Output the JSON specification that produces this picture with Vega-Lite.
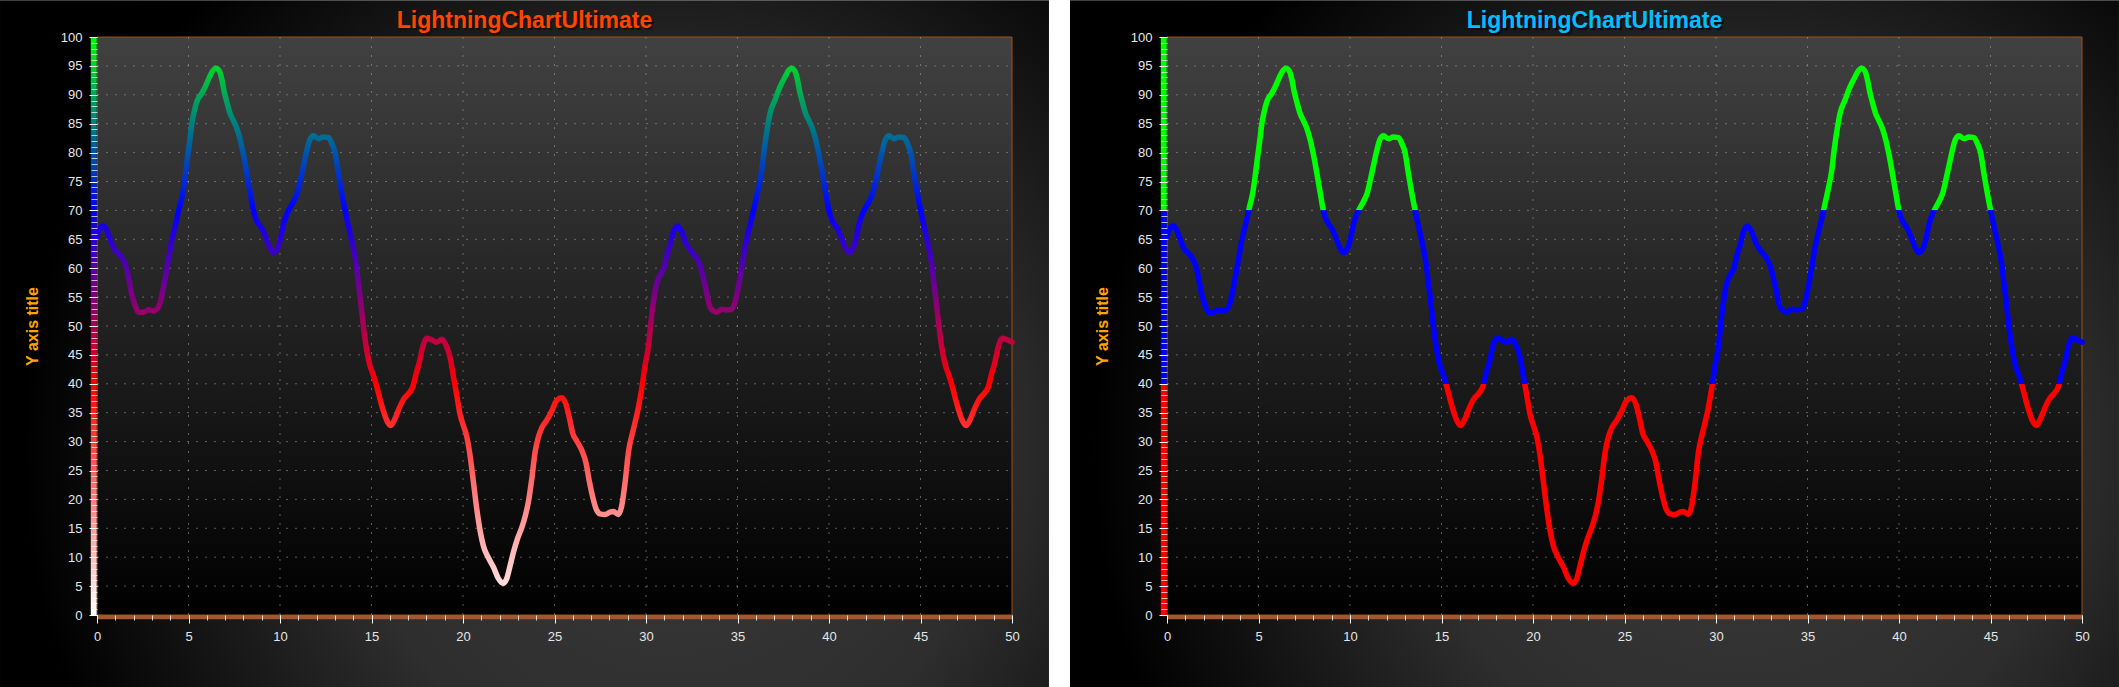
{
  "$schema": "https://vega.github.io/schema/vega-lite/v6.json",
  "background": "white",
  "padding": 0,
  "spacing": 21,
  "config": {
    "view": {"stroke": null},
    "font": "Liberation Sans"
  },
  "datasets": {
    "curve": [{"x":0,"y":65.5},{"x":0.15,"y":66.8},{"x":0.35,"y":67.3},{"x":0.53,"y":66.6},{"x":0.72,"y":65.0},{"x":0.94,"y":63.3},{"x":1.17,"y":62.6},{"x":1.44,"y":61.4},{"x":1.63,"y":59.8},{"x":1.77,"y":57.5},{"x":1.9,"y":55.5},{"x":2.08,"y":53.6},{"x":2.26,"y":52.4},{"x":2.54,"y":52.4},{"x":2.81,"y":52.8},{"x":3.09,"y":52.6},{"x":3.36,"y":53.3},{"x":3.54,"y":55.2},{"x":3.72,"y":58.2},{"x":3.9,"y":61.4},{"x":4.08,"y":64.7},{"x":4.32,"y":67.9},{"x":4.5,"y":70.5},{"x":4.69,"y":73.1},{"x":4.81,"y":75.7},{"x":4.94,"y":79.0},{"x":5.05,"y":81.6},{"x":5.18,"y":84.9},{"x":5.31,"y":87.1},{"x":5.49,"y":89.1},{"x":5.72,"y":90.2},{"x":5.96,"y":91.7},{"x":6.18,"y":93.3},{"x":6.36,"y":94.3},{"x":6.5,"y":94.6},{"x":6.69,"y":94.1},{"x":6.82,"y":92.7},{"x":6.94,"y":90.7},{"x":7.09,"y":88.8},{"x":7.27,"y":86.8},{"x":7.46,"y":85.5},{"x":7.64,"y":84.2},{"x":7.82,"y":82.3},{"x":8.0,"y":79.7},{"x":8.19,"y":76.4},{"x":8.37,"y":73.1},{"x":8.55,"y":69.9},{"x":8.73,"y":68.2},{"x":9.0,"y":66.9},{"x":9.19,"y":65.6},{"x":9.42,"y":63.7},{"x":9.64,"y":62.7},{"x":9.86,"y":63.4},{"x":10.04,"y":65.3},{"x":10.22,"y":67.9},{"x":10.46,"y":69.9},{"x":10.73,"y":71.5},{"x":10.95,"y":73.1},{"x":11.1,"y":75.1},{"x":11.28,"y":77.7},{"x":11.46,"y":80.3},{"x":11.64,"y":82.3},{"x":11.83,"y":82.9},{"x":12.1,"y":82.4},{"x":12.37,"y":82.7},{"x":12.65,"y":82.6},{"x":12.83,"y":81.6},{"x":13.01,"y":80.0},{"x":13.19,"y":76.4},{"x":13.37,"y":73.1},{"x":13.61,"y":69.2},{"x":13.83,"y":66.0},{"x":14.01,"y":63.4},{"x":14.16,"y":60.8},{"x":14.28,"y":57.5},{"x":14.41,"y":54.2},{"x":14.52,"y":51.0},{"x":14.65,"y":47.7},{"x":14.78,"y":45.1},{"x":14.92,"y":43.1},{"x":15.1,"y":41.5},{"x":15.29,"y":39.5},{"x":15.47,"y":37.3},{"x":15.65,"y":35.3},{"x":15.83,"y":33.7},{"x":16.05,"y":32.8},{"x":16.29,"y":34.0},{"x":16.53,"y":35.9},{"x":16.75,"y":37.3},{"x":17.02,"y":38.3},{"x":17.26,"y":39.5},{"x":17.44,"y":41.8},{"x":17.62,"y":43.8},{"x":17.8,"y":46.4},{"x":18.02,"y":47.9},{"x":18.29,"y":47.6},{"x":18.56,"y":47.2},{"x":18.84,"y":47.7},{"x":19.11,"y":46.4},{"x":19.3,"y":44.5},{"x":19.48,"y":41.2},{"x":19.66,"y":38.0},{"x":19.84,"y":34.7},{"x":20.02,"y":32.8},{"x":20.21,"y":30.8},{"x":20.39,"y":27.5},{"x":20.57,"y":23.0},{"x":20.75,"y":18.4},{"x":20.94,"y":14.5},{"x":21.12,"y":11.9},{"x":21.39,"y":9.9},{"x":21.66,"y":8.3},{"x":21.94,"y":6.3},{"x":22.18,"y":5.5},{"x":22.39,"y":6.3},{"x":22.58,"y":8.6},{"x":22.76,"y":10.9},{"x":22.98,"y":13.2},{"x":23.21,"y":15.1},{"x":23.4,"y":17.1},{"x":23.58,"y":19.7},{"x":23.76,"y":23.6},{"x":23.94,"y":28.2},{"x":24.12,"y":30.8},{"x":24.31,"y":32.4},{"x":24.58,"y":33.7},{"x":24.85,"y":35.3},{"x":25.09,"y":37.0},{"x":25.4,"y":37.6},{"x":25.64,"y":36.3},{"x":25.82,"y":34.0},{"x":26.0,"y":31.4},{"x":26.22,"y":30.1},{"x":26.49,"y":28.5},{"x":26.73,"y":26.2},{"x":26.91,"y":23.0},{"x":27.09,"y":20.4},{"x":27.27,"y":18.4},{"x":27.49,"y":17.5},{"x":27.77,"y":17.4},{"x":28.04,"y":17.8},{"x":28.22,"y":17.9},{"x":28.49,"y":17.4},{"x":28.68,"y":19.0},{"x":28.86,"y":23.0},{"x":29.04,"y":28.2},{"x":29.31,"y":32.1},{"x":29.59,"y":36.0},{"x":29.77,"y":39.3},{"x":29.95,"y":43.2},{"x":30.13,"y":46.4},{"x":30.26,"y":50.3},{"x":30.41,"y":54.2},{"x":30.55,"y":56.9},{"x":30.77,"y":58.8},{"x":30.99,"y":60.1},{"x":31.13,"y":62.1},{"x":31.32,"y":64.0},{"x":31.5,"y":66.3},{"x":31.72,"y":67.3},{"x":31.95,"y":66.3},{"x":32.19,"y":64.3},{"x":32.45,"y":63.0},{"x":32.77,"y":61.7},{"x":32.96,"y":60.4},{"x":33.14,"y":58.2},{"x":33.29,"y":56.2},{"x":33.41,"y":54.2},{"x":33.6,"y":52.8},{"x":33.87,"y":52.4},{"x":34.14,"y":52.9},{"x":34.41,"y":52.8},{"x":34.69,"y":52.9},{"x":34.87,"y":54.2},{"x":35.05,"y":56.8},{"x":35.23,"y":60.1},{"x":35.41,"y":63.6},{"x":35.6,"y":66.3},{"x":35.78,"y":68.6},{"x":35.96,"y":71.2},{"x":36.14,"y":73.8},{"x":36.33,"y":77.0},{"x":36.45,"y":80.3},{"x":36.6,"y":83.6},{"x":36.78,"y":86.8},{"x":37.05,"y":89.1},{"x":37.33,"y":91.4},{"x":37.63,"y":93.3},{"x":37.81,"y":94.3},{"x":37.95,"y":94.6},{"x":38.14,"y":94.1},{"x":38.27,"y":92.7},{"x":38.39,"y":90.7},{"x":38.54,"y":88.8},{"x":38.72,"y":86.8},{"x":38.91,"y":85.5},{"x":39.09,"y":84.2},{"x":39.27,"y":82.3},{"x":39.45,"y":79.7},{"x":39.64,"y":76.4},{"x":39.82,"y":73.1},{"x":40.0,"y":69.9},{"x":40.18,"y":68.2},{"x":40.45,"y":66.9},{"x":40.64,"y":65.6},{"x":40.87,"y":63.7},{"x":41.09,"y":62.7},{"x":41.31,"y":63.4},{"x":41.49,"y":65.3},{"x":41.67,"y":67.9},{"x":41.91,"y":69.9},{"x":42.18,"y":71.5},{"x":42.4,"y":73.1},{"x":42.55,"y":75.1},{"x":42.73,"y":77.7},{"x":42.91,"y":80.3},{"x":43.09,"y":82.3},{"x":43.28,"y":82.9},{"x":43.55,"y":82.4},{"x":43.82,"y":82.7},{"x":44.1,"y":82.6},{"x":44.28,"y":81.6},{"x":44.46,"y":80.0},{"x":44.64,"y":76.4},{"x":44.82,"y":73.1},{"x":45.06,"y":69.2},{"x":45.28,"y":66.0},{"x":45.46,"y":63.4},{"x":45.61,"y":60.8},{"x":45.73,"y":57.5},{"x":45.86,"y":54.2},{"x":45.97,"y":51.0},{"x":46.1,"y":47.7},{"x":46.23,"y":45.1},{"x":46.37,"y":43.1},{"x":46.55,"y":41.5},{"x":46.74,"y":39.5},{"x":46.92,"y":37.3},{"x":47.1,"y":35.3},{"x":47.28,"y":33.7},{"x":47.5,"y":32.8},{"x":47.74,"y":34.0},{"x":47.98,"y":35.9},{"x":48.2,"y":37.3},{"x":48.47,"y":38.3},{"x":48.71,"y":39.5},{"x":48.89,"y":41.8},{"x":49.07,"y":43.8},{"x":49.25,"y":46.4},{"x":49.47,"y":47.9},{"x":49.74,"y":47.6},{"x":50,"y":47.2}],
    "gridx": [{"v":5},{"v":10},{"v":15},{"v":20},{"v":25},{"v":30},{"v":35},{"v":40},{"v":45}],
    "gridy": [{"v":5},{"v":10},{"v":15},{"v":20},{"v":25},{"v":30},{"v":35},{"v":40},{"v":45},{"v":50},{"v":55},{"v":60},{"v":65},{"v":70},{"v":75},{"v":80},{"v":85},{"v":90},{"v":95}],
    "heading": [{"label": "LightningChartUltimate", "cx": 23.36, "cy": 101.5}]
  },
  "hconcat": [
    {
      "width": 915,
      "height": 578,
      "resolve": {"axis": {"x": "independent", "y": "independent"}},
      "layer": [
        {
          "data": {"values": [{}]},
          "mark": {"type": "rect", "clip": false, "fill": {"gradient": "radial", "x1": 0.64, "y1": 0.6, "r1": 0, "x2": 0.64, "y2": 0.6, "r2": 0.62, "stops": [{"offset": 0, "color": "#3a3a3a"}, {"offset": 0.5, "color": "#2e2e2e"}, {"offset": 1, "color": "#000000"}]}},
          "encoding": {
            "x": {"datum": -5.3, "type": "quantitative", "scale": {"domain": [0, 50], "nice": false, "zero": false}, "axis": null},
            "x2": {"datum": 52.02},
            "y": {"datum": -12.5, "type": "quantitative", "scale": {"domain": [0, 100], "nice": false, "zero": false}, "axis": null},
            "y2": {"datum": 106.34}
          }
        },
        {
          "data": {"values": [{}]},
          "mark": {"type": "rect", "stroke": "#9A5212", "strokeWidth": 1, "fill": {"gradient": "linear", "x1": 0, "y1": 0, "x2": 0, "y2": 1, "stops": [{"offset": 0, "color": "#414141"}, {"offset": 1, "color": "#000000"}]}},
          "encoding": {
            "x": {"datum": 0, "type": "quantitative", "scale": {"domain": [0, 50], "nice": false, "zero": false}, "axis": null},
            "x2": {"datum": 50},
            "y": {"datum": 0, "type": "quantitative", "scale": {"domain": [0, 100], "nice": false, "zero": false}, "axis": null},
            "y2": {"datum": 100}
          }
        },
        {
          "data": {"name": "gridx"},
          "mark": {"type": "rule", "stroke": "#a0a0a0", "strokeWidth": 1, "strokeDash": [2, 7], "opacity": 0.55},
          "encoding": {
            "x": {"field": "v", "type": "quantitative", "scale": {"domain": [0, 50], "nice": false, "zero": false}, "axis": null},
            "y": {"datum": 0, "type": "quantitative", "scale": {"domain": [0, 100], "nice": false, "zero": false}, "axis": null},
            "y2": {"datum": 100}
          }
        },
        {
          "data": {"name": "gridy"},
          "mark": {"type": "rule", "stroke": "#a0a0a0", "strokeWidth": 1, "strokeDash": [2, 7], "opacity": 0.55},
          "encoding": {
            "y": {"field": "v", "type": "quantitative", "scale": {"domain": [0, 100], "nice": false, "zero": false}, "axis": null},
            "x": {"datum": 0, "type": "quantitative", "scale": {"domain": [0, 50], "nice": false, "zero": false}, "axis": null},
            "x2": {"datum": 50}
          }
        },
        {
          "data": {"values": [{}]},
          "mark": {"type": "rect", "clip": false, "fill": "#A5552F"},
          "encoding": {
            "x": {"datum": 0, "type": "quantitative", "scale": {"domain": [0, 50], "nice": false, "zero": false}, "axis": {"orient": "bottom", "values": [0,1,2,3,4,5,6,7,8,9,10,11,12,13,14,15,16,17,18,19,20,21,22,23,24,25,26,27,28,29,30,31,32,33,34,35,36,37,38,39,40,41,42,43,44,45,46,47,48,49,50], "labels": false, "domain": false, "grid": false, "tickSize": 5, "tickColor": "#ffffff", "tickOpacity": 0.8, "tickWidth": 1, "title": null, "zindex": 1}},
            "x2": {"datum": 50},
            "y": {"datum": 0, "type": "quantitative", "scale": {"domain": [0, 100], "nice": false, "zero": false}, "axis": null},
            "y2": {"datum": -0.75}
          }
        },
        {
          "data": {"values": [{}]},
          "mark": {"type": "rect", "clip": false, "fill": {"gradient": "linear", "x1": 0, "y1": 1, "x2": 0, "y2": 0, "stops": [{"offset": 0, "color": "#FFFFFF"}, {"offset": 0.4, "color": "#FF0000"}, {"offset": 0.7, "color": "#0000FF"}, {"offset": 1, "color": "#00FF00"}]}},
          "encoding": {
            "x": {"datum": -0.34, "type": "quantitative", "scale": {"domain": [0, 50], "nice": false, "zero": false}, "axis": null},
            "x2": {"datum": -0.02},
            "y": {"datum": 0, "type": "quantitative", "scale": {"domain": [0, 100], "nice": false, "zero": false}, "axis": {"orient": "left", "values": [0,1,2,3,4,5,6,7,8,9,10,11,12,13,14,15,16,17,18,19,20,21,22,23,24,25,26,27,28,29,30,31,32,33,34,35,36,37,38,39,40,41,42,43,44,45,46,47,48,49,50,51,52,53,54,55,56,57,58,59,60,61,62,63,64,65,66,67,68,69,70,71,72,73,74,75,76,77,78,79,80,81,82,83,84,85,86,87,88,89,90,91,92,93,94,95,96,97,98,99,100], "labels": false, "domain": false, "grid": false, "tickSize": 6, "tickColor": "#ffffff", "tickOpacity": 0.7, "tickWidth": 1, "title": null, "zindex": 1}},
            "y2": {"datum": 100}
          }
        },
        {
          "data": {"name": "curve"},
          "mark": {"type": "line", "strokeWidth": 5.5, "interpolate": "monotone", "strokeCap": "round", "strokeJoin": "round", "stroke": {"gradient": "linear", "x1": 0, "y1": 1, "x2": 0, "y2": 0, "stops": [{"offset": 0, "color": "#FFDCDC"}, {"offset": 0.3872, "color": "#FF0000"}, {"offset": 0.7239, "color": "#0000FF"}, {"offset": 1, "color": "#00D12E"}]}},
          "encoding": {
            "x": {"field": "x", "type": "quantitative", "scale": {"domain": [0, 50], "nice": false, "zero": false}, "axis": {"orient": "bottom", "values": [0,5,10,15,20,25,30,35,40,45,50], "labelFlush": false, "labelOverlap": false, "domain": false, "grid": false, "tickSize": 8, "tickColor": "#ffffff", "tickWidth": 1, "labelColor": "#E6E6E6", "labelFont": "Liberation Sans", "labelFontSize": 13, "labelPadding": 7, "title": null, "zindex": 1}},
            "y": {"field": "y", "type": "quantitative", "scale": {"domain": [0, 100], "nice": false, "zero": false}, "axis": {"orient": "left", "values": [0,5,10,15,20,25,30,35,40,45,50,55,60,65,70,75,80,85,90,95,100], "labelOverlap": false, "domain": false, "grid": false, "tickSize": 8, "tickColor": "#ffffff", "tickWidth": 1, "labelColor": "#E6E6E6", "labelFont": "Liberation Sans", "labelFontSize": 13, "labelPadding": 7, "title": "Y axis title", "titleColor": "#FFA500", "titleFont": "Liberation Sans", "titleFontSize": 16, "titleFontWeight": "bold", "titlePadding": 20, "zindex": 1}}
          }
        },
        {
          "data": {"name": "heading"},
          "mark": {"type": "text", "clip": false, "align": "center", "baseline": "alphabetic", "font": "Liberation Sans", "fontSize": 23, "fontWeight": "bold", "fill": "#1a0800", "dx": 2, "dy": 2, "opacity": 0.8},
          "encoding": {
            "x": {"field": "cx", "type": "quantitative", "scale": {"domain": [0, 50], "nice": false, "zero": false}, "axis": null},
            "y": {"field": "cy", "type": "quantitative", "scale": {"domain": [0, 100], "nice": false, "zero": false}, "axis": null},
            "text": {"field": "label"}
          }
        },
        {
          "data": {"name": "heading"},
          "mark": {"type": "text", "clip": false, "align": "center", "baseline": "alphabetic", "font": "Liberation Sans", "fontSize": 23, "fontWeight": "bold", "fill": "#FF4500"},
          "encoding": {
            "x": {"field": "cx", "type": "quantitative", "scale": {"domain": [0, 50], "nice": false, "zero": false}, "axis": null},
            "y": {"field": "cy", "type": "quantitative", "scale": {"domain": [0, 100], "nice": false, "zero": false}, "axis": null},
            "text": {"field": "label"}
          }
        }
      ]
    },
    {
      "width": 915,
      "height": 578,
      "resolve": {"axis": {"x": "independent", "y": "independent"}},
      "layer": [
        {
          "data": {"values": [{}]},
          "mark": {"type": "rect", "clip": false, "fill": {"gradient": "radial", "x1": 0.64, "y1": 0.6, "r1": 0, "x2": 0.64, "y2": 0.6, "r2": 0.62, "stops": [{"offset": 0, "color": "#3a3a3a"}, {"offset": 0.5, "color": "#2e2e2e"}, {"offset": 1, "color": "#000000"}]}},
          "encoding": {
            "x": {"datum": -5.3, "type": "quantitative", "scale": {"domain": [0, 50], "nice": false, "zero": false}, "axis": null},
            "x2": {"datum": 52.02},
            "y": {"datum": -12.5, "type": "quantitative", "scale": {"domain": [0, 100], "nice": false, "zero": false}, "axis": null},
            "y2": {"datum": 106.34}
          }
        },
        {
          "data": {"values": [{}]},
          "mark": {"type": "rect", "stroke": "#9A5212", "strokeWidth": 1, "fill": {"gradient": "linear", "x1": 0, "y1": 0, "x2": 0, "y2": 1, "stops": [{"offset": 0, "color": "#414141"}, {"offset": 1, "color": "#000000"}]}},
          "encoding": {
            "x": {"datum": 0, "type": "quantitative", "scale": {"domain": [0, 50], "nice": false, "zero": false}, "axis": null},
            "x2": {"datum": 50},
            "y": {"datum": 0, "type": "quantitative", "scale": {"domain": [0, 100], "nice": false, "zero": false}, "axis": null},
            "y2": {"datum": 100}
          }
        },
        {
          "data": {"name": "gridx"},
          "mark": {"type": "rule", "stroke": "#a0a0a0", "strokeWidth": 1, "strokeDash": [2, 7], "opacity": 0.55},
          "encoding": {
            "x": {"field": "v", "type": "quantitative", "scale": {"domain": [0, 50], "nice": false, "zero": false}, "axis": null},
            "y": {"datum": 0, "type": "quantitative", "scale": {"domain": [0, 100], "nice": false, "zero": false}, "axis": null},
            "y2": {"datum": 100}
          }
        },
        {
          "data": {"name": "gridy"},
          "mark": {"type": "rule", "stroke": "#a0a0a0", "strokeWidth": 1, "strokeDash": [2, 7], "opacity": 0.55},
          "encoding": {
            "y": {"field": "v", "type": "quantitative", "scale": {"domain": [0, 100], "nice": false, "zero": false}, "axis": null},
            "x": {"datum": 0, "type": "quantitative", "scale": {"domain": [0, 50], "nice": false, "zero": false}, "axis": null},
            "x2": {"datum": 50}
          }
        },
        {
          "data": {"values": [{}]},
          "mark": {"type": "rect", "clip": false, "fill": "#A5552F"},
          "encoding": {
            "x": {"datum": 0, "type": "quantitative", "scale": {"domain": [0, 50], "nice": false, "zero": false}, "axis": {"orient": "bottom", "values": [0,1,2,3,4,5,6,7,8,9,10,11,12,13,14,15,16,17,18,19,20,21,22,23,24,25,26,27,28,29,30,31,32,33,34,35,36,37,38,39,40,41,42,43,44,45,46,47,48,49,50], "labels": false, "domain": false, "grid": false, "tickSize": 5, "tickColor": "#ffffff", "tickOpacity": 0.8, "tickWidth": 1, "title": null, "zindex": 1}},
            "x2": {"datum": 50},
            "y": {"datum": 0, "type": "quantitative", "scale": {"domain": [0, 100], "nice": false, "zero": false}, "axis": null},
            "y2": {"datum": -0.75}
          }
        },
        {
          "data": {"values": [{}]},
          "mark": {"type": "rect", "clip": false, "fill": {"gradient": "linear", "x1": 0, "y1": 1, "x2": 0, "y2": 0, "stops": [{"offset": 0, "color": "#FF0000"}, {"offset": 0.4, "color": "#FF0000"}, {"offset": 0.4, "color": "#0000FF"}, {"offset": 0.7, "color": "#0000FF"}, {"offset": 0.7, "color": "#00FF00"}, {"offset": 1, "color": "#00FF00"}]}},
          "encoding": {
            "x": {"datum": -0.34, "type": "quantitative", "scale": {"domain": [0, 50], "nice": false, "zero": false}, "axis": null},
            "x2": {"datum": -0.02},
            "y": {"datum": 0, "type": "quantitative", "scale": {"domain": [0, 100], "nice": false, "zero": false}, "axis": {"orient": "left", "values": [0,1,2,3,4,5,6,7,8,9,10,11,12,13,14,15,16,17,18,19,20,21,22,23,24,25,26,27,28,29,30,31,32,33,34,35,36,37,38,39,40,41,42,43,44,45,46,47,48,49,50,51,52,53,54,55,56,57,58,59,60,61,62,63,64,65,66,67,68,69,70,71,72,73,74,75,76,77,78,79,80,81,82,83,84,85,86,87,88,89,90,91,92,93,94,95,96,97,98,99,100], "labels": false, "domain": false, "grid": false, "tickSize": 6, "tickColor": "#ffffff", "tickOpacity": 0.7, "tickWidth": 1, "title": null, "zindex": 1}},
            "y2": {"datum": 100}
          }
        },
        {
          "data": {"name": "curve"},
          "mark": {"type": "line", "strokeWidth": 5.5, "interpolate": "monotone", "strokeCap": "round", "strokeJoin": "round", "stroke": {"gradient": "linear", "x1": 0, "y1": 1, "x2": 0, "y2": 0, "stops": [{"offset": 0, "color": "#FF0000"}, {"offset": 0.3872, "color": "#FF0000"}, {"offset": 0.3872, "color": "#0000FF"}, {"offset": 0.7239, "color": "#0000FF"}, {"offset": 0.7239, "color": "#00FF00"}, {"offset": 1, "color": "#00FF00"}]}},
          "encoding": {
            "x": {"field": "x", "type": "quantitative", "scale": {"domain": [0, 50], "nice": false, "zero": false}, "axis": {"orient": "bottom", "values": [0,5,10,15,20,25,30,35,40,45,50], "labelFlush": false, "labelOverlap": false, "domain": false, "grid": false, "tickSize": 8, "tickColor": "#ffffff", "tickWidth": 1, "labelColor": "#E6E6E6", "labelFont": "Liberation Sans", "labelFontSize": 13, "labelPadding": 7, "title": null, "zindex": 1}},
            "y": {"field": "y", "type": "quantitative", "scale": {"domain": [0, 100], "nice": false, "zero": false}, "axis": {"orient": "left", "values": [0,5,10,15,20,25,30,35,40,45,50,55,60,65,70,75,80,85,90,95,100], "labelOverlap": false, "domain": false, "grid": false, "tickSize": 8, "tickColor": "#ffffff", "tickWidth": 1, "labelColor": "#E6E6E6", "labelFont": "Liberation Sans", "labelFontSize": 13, "labelPadding": 7, "title": "Y axis title", "titleColor": "#FFA500", "titleFont": "Liberation Sans", "titleFontSize": 16, "titleFontWeight": "bold", "titlePadding": 20, "zindex": 1}}
          }
        },
        {
          "data": {"name": "heading"},
          "mark": {"type": "text", "clip": false, "align": "center", "baseline": "alphabetic", "font": "Liberation Sans", "fontSize": 23, "fontWeight": "bold", "fill": "#000814", "dx": 2, "dy": 2, "opacity": 0.8},
          "encoding": {
            "x": {"field": "cx", "type": "quantitative", "scale": {"domain": [0, 50], "nice": false, "zero": false}, "axis": null},
            "y": {"field": "cy", "type": "quantitative", "scale": {"domain": [0, 100], "nice": false, "zero": false}, "axis": null},
            "text": {"field": "label"}
          }
        },
        {
          "data": {"name": "heading"},
          "mark": {"type": "text", "clip": false, "align": "center", "baseline": "alphabetic", "font": "Liberation Sans", "fontSize": 23, "fontWeight": "bold", "fill": "#00BFFF"},
          "encoding": {
            "x": {"field": "cx", "type": "quantitative", "scale": {"domain": [0, 50], "nice": false, "zero": false}, "axis": null},
            "y": {"field": "cy", "type": "quantitative", "scale": {"domain": [0, 100], "nice": false, "zero": false}, "axis": null},
            "text": {"field": "label"}
          }
        }
      ]
    }
  ]
}
